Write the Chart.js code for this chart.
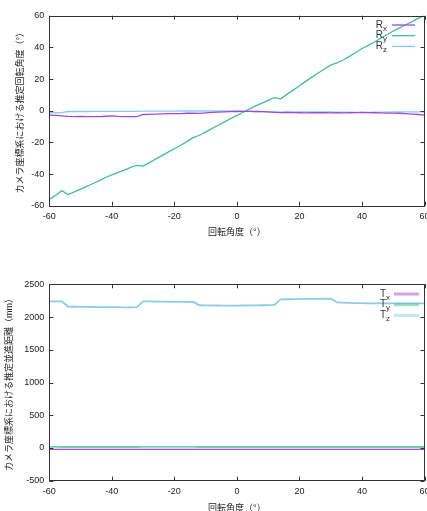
<!DOCTYPE html>
<html>
<head>
<meta charset="utf-8">
<script src="https://cdn.jsdelivr.net/npm/chart.js@4"></script>
<style>
  html, body { margin: 0; padding: 0; width: 427px; height: 511px; overflow: hidden; background: #fff; }
  .box { position: absolute; left: 0; }
  #topBox { top: 0; }
  #bottomBox { top: 255px; }
</style>
</head>
<body>
<div class="box" id="topBox"><canvas id="rotChart" width="440" height="250" style="width:440px;height:250px"></canvas></div>
<div class="box" id="bottomBox"><canvas id="transChart" width="440" height="266" style="width:440px;height:266px"></canvas></div>
<script>
// rotation angle of the target (degrees)
const angles = [-60,-58,-56,-54,-52,-50,-48,-46,-44,-42,
  -40,-38,-36,-34,-32,-30,-28,-26,-24,-22,
  -20,-18,-16,-14,-12,-10,-8,-6,-4,-2,
  0,2,4,6,8,10,12,14,16,18,
  20,22,24,26,28,30,32,34,36,38,
  40,42,44,46,48,50,52,54,56,58,60];

// estimated rotation (deg)
const rx = [-2.8,-3.0,-3.3,-3.6,-3.8,-3.6,-3.7,-3.8,-3.7,-3.5,
  -3.3,-3.6,-3.8,-3.8,-3.7,-2.4,-2.3,-2.1,-2.0,-1.9,
  -1.8,-1.8,-1.6,-1.6,-1.7,-1.4,-1.1,-0.9,-0.7,-0.6,
  -0.5,-0.4,-0.4,-0.5,-0.6,-0.8,-1.0,-1.2,-1.0,-1.2,
  -1.3,-1.4,-1.3,-1.2,-1.3,-1.4,-1.3,-1.4,-1.3,-1.2,
  -1.1,-1.2,-1.3,-1.4,-1.5,-1.5,-1.6,-1.8,-2.1,-2.4,-2.8];
const ry = [-56,-53.5,-50.5,-53,-51.3,-49.5,-47.8,-46,-44.2,-42.2,
  -40.5,-39,-37.5,-35.8,-34.5,-35,-32.8,-30.6,-28.4,-26.2,
  -24,-21.8,-19.5,-17,-15.5,-13.5,-11.3,-9.2,-7.1,-5,
  -3,-1,1,3,4.8,6.5,8.3,7.5,10.3,13,
  15.8,18.5,21.2,23.8,26.3,28.8,30.2,32,34.3,36.8,
  39.3,41.3,43.4,45.8,48,50.3,52.3,54.3,56.3,58.3,60.3];
const rz = [-1.3,-1.3,-1.2,-0.5,-0.5,-0.5,-0.5,-0.4,-0.4,-0.4,
  -0.4,-0.4,-0.4,-0.4,-0.4,-0.3,-0.3,-0.3,-0.3,-0.3,
  -0.3,-0.2,-0.2,-0.2,-0.2,-0.2,-0.2,-0.2,-0.2,-0.2,
  -0.2,-0.3,-0.4,-0.5,-0.6,-0.7,-0.8,-0.9,-0.8,-0.8,
  -0.7,-0.7,-0.7,-0.7,-0.8,-0.8,-0.9,-0.9,-0.9,-1.0,
  -1.0,-1.0,-0.9,-0.9,-0.9,-0.8,-0.8,-0.8,-0.8,-0.8,-0.8];

// estimated translation (mm)
const tx = [-22,-22,-21,-20,-20,-20,-20,-20,-20,-20,
  -20,-20,-20,-20,-20,-21,-21,-21,-21,-21,
  -21,-21,-21,-21,-20,-20,-20,-20,-20,-20,
  -20,-20,-20,-20,-20,-20,-20,-20,-20,-20,
  -20,-20,-20,-20,-20,-20,-20,-20,-20,-20,
  -20,-20,-20,-20,-20,-20,-20,-20,-20,-21,-22];
const ty = [16,16,15,15,15,15,15,15,15,15,
  15,15,15,15,15,16,16,16,16,16,
  16,16,16,16,15,15,15,15,15,15,
  15,15,15,15,15,15,15,15,15,15,
  15,15,15,15,15,15,15,15,15,15,
  15,15,15,15,15,15,15,15,15,15,15];
const tz = [2240,2240,2238,2160,2157,2155,2154,2153,2152,2151,
  2150,2150,2149,2149,2150,2240,2238,2236,2234,2232,
  2231,2231,2232,2230,2180,2178,2177,2176,2175,2175,
  2175,2176,2177,2178,2180,2182,2185,2270,2272,2274,
  2275,2276,2277,2278,2279,2280,2225,2220,2216,2213,
  2211,2210,2210,2210,2210,2210,2210,2210,2210,2210,2210];

const xTicks = [-60, -40, -20, 0, 20, 40, 60];
const rotTicks = [-60, -40, -20, 0, 20, 40, 60];
const transTicks = [-500, 0, 500, 1000, 1500, 2000, 2500];

const PURPLE = '#a24ad8';
const GREEN = '#42c096';
const BLUE = '#8ccbee';

Chart.defaults.font.family = "'Liberation Sans', 'Noto Sans CJK JP', sans-serif";
Chart.defaults.font.size = 9;
Chart.defaults.color = '#222';

const pts = ys => angles.map((a, i) => ({ x: a, y: ys[i] }));

// gnuplot-like frame with inward ticks on all four sides
const frameTicks = {
  id: 'frameTicks',
  afterDatasetsDraw(chart) {
    const { ctx, chartArea: a, scales: { x, y } } = chart;
    ctx.save();
    ctx.strokeStyle = '#333';
    ctx.lineWidth = 1;
    ctx.beginPath();
    x.ticks.forEach(t => {
      const px = Math.round(x.getPixelForValue(t.value)) + 0.5;
      ctx.moveTo(px, a.bottom); ctx.lineTo(px, a.bottom - 4);
      ctx.moveTo(px, a.top); ctx.lineTo(px, a.top + 4);
    });
    y.ticks.forEach(t => {
      const py = Math.round(y.getPixelForValue(t.value)) + 0.5;
      ctx.moveTo(a.left, py); ctx.lineTo(a.left + 4, py);
      ctx.moveTo(a.right, py); ctx.lineTo(a.right - 4, py);
    });
    ctx.stroke();
    ctx.strokeRect(Math.round(a.left) + 0.5, Math.round(a.top) + 0.5,
      Math.round(a.width), Math.round(a.height));
    ctx.restore();
  }
};

// gnuplot-like key: "R" + subscript, then a line sample
const keyBox = {
  id: 'keyBox',
  afterDraw(chart, args, opts) {
    const { ctx, chartArea: a } = chart;
    ctx.save();
    chart.data.datasets.forEach((ds, i) => {
      const y = a.top + opts.top + i * 10.7;
      const lineEnd = a.right - opts.right;
      const lineStart = lineEnd - opts.len;
      ctx.strokeStyle = ds.borderColor;
      ctx.globalAlpha = opts.alpha;
      ctx.lineWidth = opts.width;
      ctx.beginPath();
      ctx.moveTo(lineStart, y); ctx.lineTo(lineEnd, y);
      ctx.stroke();
      ctx.globalAlpha = 1;
      const [main, sub] = ds.label.split('_');
      ctx.fillStyle = '#333';
      ctx.textBaseline = 'middle';
      ctx.font = "10px 'Liberation Sans', sans-serif";
      const mw = ctx.measureText(main).width;
      ctx.font = "8px 'Liberation Sans', sans-serif";
      const sw = ctx.measureText(sub).width;
      const textRight = lineStart - opts.gap;
      ctx.font = "10px 'Liberation Sans', sans-serif";
      ctx.textAlign = 'left';
      ctx.fillText(main, textRight - sw - mw, y);
      ctx.font = "8px 'Liberation Sans', sans-serif";
      ctx.fillText(sub, textRight - sw, y + 3.5);
    });
    ctx.restore();
  }
};

function makeChart(id, sets, yMin, yMax, yStep, yTickVals, cfg) {
  return new Chart(document.getElementById(id), {
    type: 'line',
    data: {
      datasets: sets.map(s => ({
        label: s.label,
        data: pts(s.data),
        borderColor: s.color,
        borderWidth: s.width || 1.3,
        pointRadius: 0,
        tension: 0,
        fill: false
      }))
    },
    options: {
      responsive: false,
      animation: false,
      layout: { padding: { top: cfg.padTop, right: cfg.padRight, left: 0, bottom: 0 } },
      plugins: {
        legend: { display: false },
        tooltip: { enabled: false },
        keyBox: cfg.key
      },
      scales: {
        x: {
          type: 'linear',
          min: -60, max: 60,
          afterBuildTicks: s => { s.ticks = xTicks.map(v => ({ value: v })); },
          ticks: { padding: 5, callback: v => String(v), maxRotation: 0 },
          grid: { display: false, drawTicks: false },
          border: { display: false },
          title: { display: true, text: '回転角度（°）', padding: { top: 0, bottom: cfg.xTitlePad }, font: { size: 9 } },
          afterFit: s => { s.height = cfg.xHeight; }
        },
        y: {
          min: yMin, max: yMax,
          afterBuildTicks: s => { s.ticks = yTickVals.map(v => ({ value: v })); },
          ticks: { padding: 5, callback: v => String(v) },
          grid: { display: false, drawTicks: false },
          border: { display: false },
          title: { display: true, text: cfg.yTitle, padding: { top: cfg.yTitlePad, bottom: 0 }, font: { size: 9 } },
          afterFit: s => { s.width = 49.3; }
        }
      }
    },
    plugins: [frameTicks, keyBox]
  });
}

makeChart('rotChart', [
  { label: 'R_x', data: rx, color: PURPLE },
  { label: 'R_y', data: ry, color: GREEN },
  { label: 'R_z', data: rz, color: BLUE }
], -60, 60, 20, rotTicks, {
  padTop: 15.7, padRight: 440 - 424.5, xHeight: 44.3, xTitlePad: 12.5,
  yTitle: 'カメラ座標系における推定回転角度（°）', yTitlePad: 15.3,
  key: { top: 9.3, right: 9.5, len: 23, gap: 5, width: 1.3, alpha: 1 }
});

makeChart('transChart', [
  { label: 'T_x', data: tx, color: PURPLE },
  { label: 'T_y', data: ty, color: GREEN },
  { label: 'T_z', data: tz, color: BLUE, width: 1.8 }
], -500, 2500, 500, transTicks, {
  padTop: 29.3, padRight: 440 - 424.5, xHeight: 40.3, xTitlePad: 7,
  yTitle: 'カメラ座標系における推定並進距離（mm）', yTitlePad: 4.6,
  key: { top: 9.7, right: 5.5, len: 25, gap: 4, width: 3, alpha: 0.5 }
});
</script>
</body>
</html>
